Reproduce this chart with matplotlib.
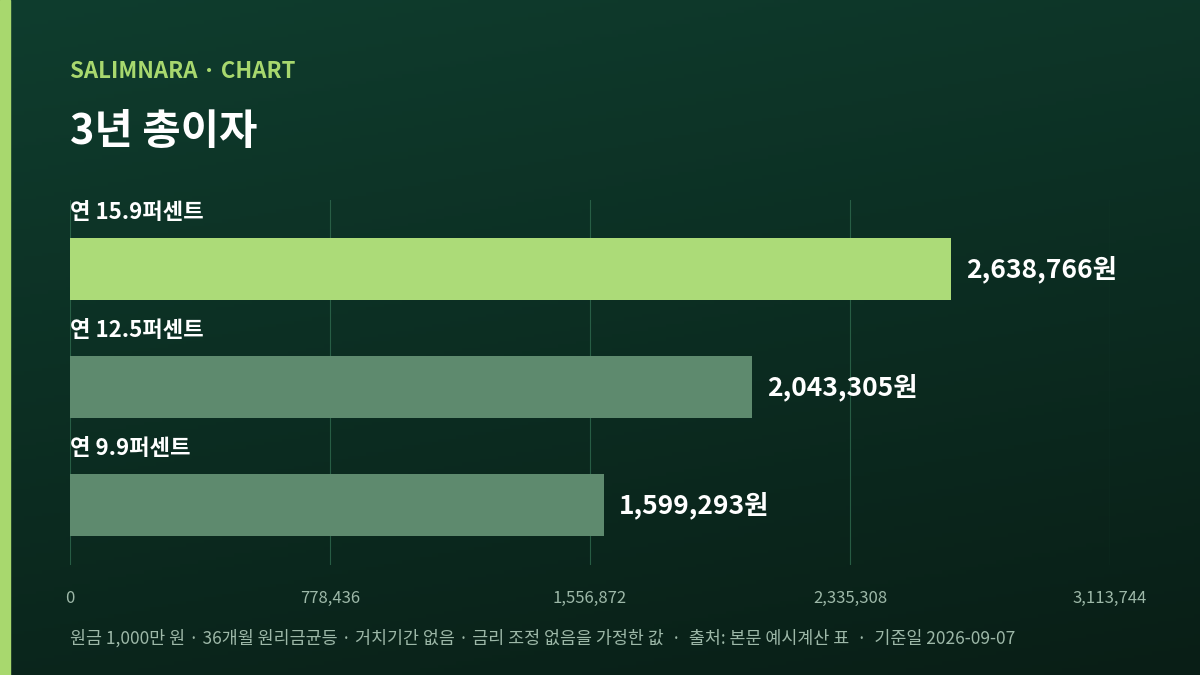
import numpy as np
import matplotlib.pyplot as plt

labels = ['연 15.9퍼센트', '연 12.5퍼센트', '연 9.9퍼센트']
values = [2638766, 2043305, 1599293]
ticks = [0, 778436, 1556872, 2335308, 3113744]

plt.rcParams['font.family'] = ['Noto Sans CJK KR', 'DejaVu Sans']

fig = plt.figure(figsize=(12, 6.75), dpi=100)

# background gradient
bg = fig.add_axes([0, 0, 1, 1], zorder=-1)
yy, xx = np.mgrid[0:1:200j, 0:1:200j]
t = np.clip(0.75 * yy + 0.25 * xx, 0, 1)
top = np.array([15, 61, 46]) / 255
bot = np.array([9, 30, 22]) / 255
img = top[None, None, :] * (1 - t[..., None]) + bot[None, None, :] * t[..., None]
bg.imshow(img, extent=[0, 1, 0, 1], aspect='auto')
bg.add_patch(plt.Rectangle((0, 0), 10 / 1200, 1, color='#a8d86e'))
bg.set_xlim(0, 1)
bg.set_ylim(0, 1)
bg.axis('off')

fig.text(70 / 1200, 1 - 71 / 675, 'SALIMNARA · CHART', color='#a8d86e',
         fontsize=16, fontweight='bold', va='center')
fig.text(70 / 1200, 1 - 132 / 675, '3년 총이자', color='white',
         fontsize=30, fontweight='bold', va='center')

ax = fig.add_axes([70 / 1200, 1 - 565 / 675, 1040 / 1200, 365 / 675])
ax.patch.set_alpha(0)
colors = ['#acdb78', '#5e8a6e', '#5e8a6e']
pos = np.arange(len(values))
ax.barh(pos, values, height=0.525, color=colors, zorder=2)
ax.set_xlim(0, ticks[-1])
ax.set_ylim(2.508, -0.585)
ax.set_xticks(ticks)
ax.set_xticklabels([f'{v:,}' for v in ticks])
ax.set_yticks([])
ax.grid(axis='x', color='#2f6a4e', linewidth=0.8, alpha=0.8, zorder=0)
ax.tick_params(axis='x', length=0, colors='#9db8a8', labelsize=12, pad=18)
for s in ax.spines.values():
    s.set_visible(False)

for i, (lab, v) in enumerate(zip(labels, values)):
    ax.text(0, i - 0.38, lab, color='white', fontsize=16, fontweight='bold',
            va='bottom', ha='left')
    ax.text(v + ticks[-1] * 0.014, i, f'{v:,}원', color='white', fontsize=19,
            fontweight='bold', va='center', ha='left')

fig.text(70 / 1200, 1 - 638 / 675,
         '원금 1,000만 원 · 36개월 원리금균등 · 거치기간 없음 · 금리 조정 없음을 가정한 값  ·  출처: 본문 예시계산 표  ·  기준일 2026-09-07',
         color='#9db8a8', fontsize=12.5, va='center')

fig.savefig('out.png', dpi=100)
